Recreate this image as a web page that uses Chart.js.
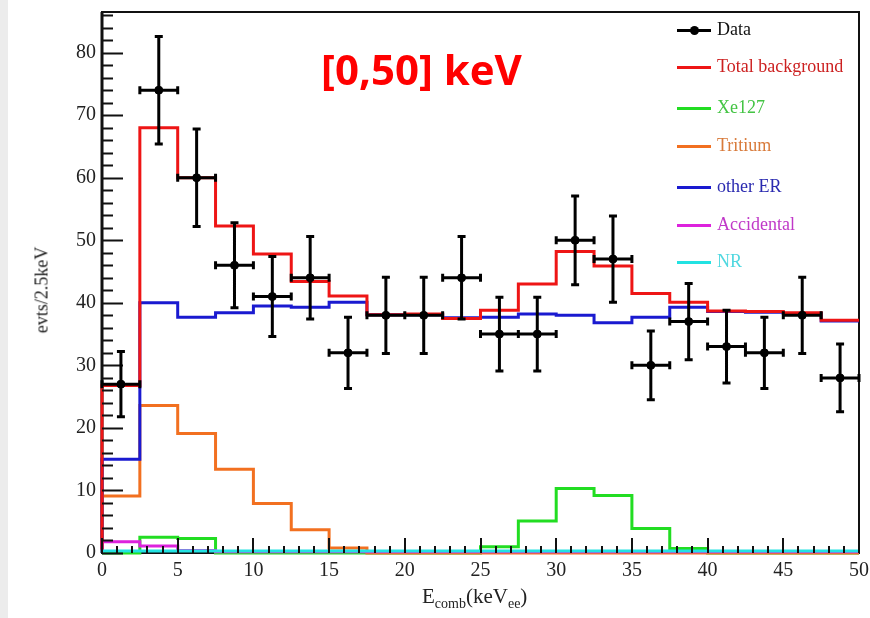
<!DOCTYPE html>
<html>
<head>
<meta charset="utf-8">
<script src="https://cdn.jsdelivr.net/npm/chart.js@4.4.1/dist/chart.umd.min.js"></script>
<style>
  html, body { margin: 0; padding: 0; background: #fff; }
  #wrap { position: relative; width: 870px; height: 618px; overflow: hidden; background: #fff; }
  #strip { position: absolute; left: 0; top: 0; width: 8px; height: 618px; background: #ececec; }
  #chart { position: absolute; left: 0; top: 0; }
  .lbl { position: absolute; font-family: "Liberation Serif", "DejaVu Serif", serif; color: #222; white-space: nowrap; }
  #range { position: absolute; left: 321px; top: 40px; font-family: "Open Sans", sans-serif; font-weight: 700; font-size: 42px; color: #f00; white-space: nowrap; }
  #ytitle { left: 42px; top: 290px; font-size: 18px; transform: translate(-50%, -50%) rotate(-90deg); }
  #xtitle { left: 422px; top: 584px; font-size: 21px; }
  #xtitle sub { font-size: 14px; }
  .leg { position: absolute; left: 677px; height: 20px; }
  .leg .ln { position: absolute; left: 0; top: 8px; width: 34px; height: 3px; }
  .leg .dot { position: absolute; left: 13px; top: 5px; width: 9px; height: 9px; border-radius: 50%; background: #000; }
  .leg .tx { position: absolute; left: 40px; top: -2px; font-family: "Liberation Serif", serif; font-size: 18px; white-space: nowrap; }
</style>
</head>
<body>
<div id="wrap">
  <div id="strip"></div>
  <canvas id="chart" width="870" height="618"></canvas>
  <div id="range">[0,50] keV</div>
  <div class="lbl" id="ytitle">evts/2.5keV</div>
  <div class="lbl" id="xtitle">E<sub>comb</sub>(keV<sub>ee</sub>)</div>
  <div id="legend"></div>
</div>
<script>
// ---- data ----
const binWidth = 2.5;
const xMin = 0;
const xMax = 50;
const yMax = 86.5;

const dataCounts = [27, 74, 60, 46, 41, 44, 32, 38, 38, 44, 35, 35, 50, 47, 30, 37, 33, 32, 38, 28];
const dataErr    = [5.2, 8.6, 7.8, 6.8, 6.4, 6.6, 5.7, 6.1, 6.1, 6.6, 5.9, 5.9, 7.1, 6.9, 5.5, 6.1, 5.8, 5.7, 6.1, 5.4];

const totalBkg   = [26.8, 68, 60, 52.3, 47.8, 43.4, 41.1, 38.1, 38.2, 37.5, 38.8, 43, 48.2, 45.9, 41.5, 40.1, 38.7, 38.6, 38.4, 37.2];
const otherER    = [15.0, 40, 37.7, 38.4, 39.5, 39.3, 40.1, 38.1, 38.1, 37.6, 37.7, 38.2, 38, 36.8, 37.7, 39.3, 38.6, 38.5, 38.3, 37.1];
const tritium    = [9.1, 23.6, 19.1, 13.4, 7.9, 3.7, 0.8, 0, 0, 0, 0, 0, 0, 0, 0, 0, 0, 0, 0, 0];
const xe127      = [0, 2.5, 2.3, 0, 0, 0, 0, 0, 0, 0, 1.0, 5.1, 10.3, 9.2, 3.9, 0.7, 0, 0, 0, 0];
const accidental = [1.8, 1.1, 0.4, 0.2, 0.2, 0.2, 0.2, 0.2, 0.2, 0.2, 0.2, 0.2, 0.2, 0.2, 0.2, 0.2, 0.2, 0.2, 0.2, 0.2];
const nr         = [0.3, 0.3, 0.3, 0.3, 0.3, 0.3, 0.3, 0.3, 0.3, 0.3, 0.3, 0.3, 0.3, 0.3, 0.3, 0.3, 0.3, 0.3, 0.3, 0.3];

const legendItems = [
  { name: 'Data',             line: '#000',    text: '#111',    dot: true },
  { name: 'Total background', line: '#ee1515', text: '#cc2020' },
  { name: 'Xe127',            line: '#22dd22', text: '#44c444' },
  { name: 'Tritium',          line: '#f27020', text: '#d87a3a' },
  { name: 'other ER',         line: '#1a1ad0', text: '#2a2ab0' },
  { name: 'Accidental',       line: '#dd22dd', text: '#c038c8' },
  { name: 'NR',               line: '#22e2e2', text: '#50d8e0' }
];
const legendRows = [31, 68, 109, 147, 188, 226, 263];

// histogram -> stepped outline points (bin edges)
function histPoints(vals) {
  const pts = [{ x: xMin, y: 0 }];
  vals.forEach((v, i) => pts.push({ x: xMin + i * binWidth, y: v }));
  pts.push({ x: xMax, y: vals[vals.length - 1] });
  return pts;
}

function histSet(vals, color, order) {
  return {
    type: 'line',
    data: histPoints(vals),
    borderColor: color,
    borderWidth: 3,
    stepped: 'before',
    pointRadius: 0,
    fill: false,
    clip: 4,
    order
  };
}

const dataPoints = dataCounts.map((c, i) => ({ x: xMin + (i + 0.5) * binWidth, y: c }));

// legend (html)
const legendEl = document.getElementById('legend');
legendEl.innerHTML = legendItems.map((it, i) => `
  <div class="leg" style="top:${legendRows[i] - 10}px">
    <span class="ln" style="background:${it.line}"></span>
    ${it.dot ? '<span class="dot"></span>' : ''}
    <span class="tx" style="color:${it.text}">${it.name}</span>
  </div>`).join('');

// frame drawn under the histograms
const framePlugin = {
  id: 'frame',
  beforeDatasetsDraw(chart) {
    const { ctx, chartArea: a } = chart;
    ctx.save();
    ctx.strokeStyle = '#111';
    ctx.lineWidth = 2;
    ctx.strokeRect(a.left, a.top, a.right - a.left, a.bottom - a.top);
    ctx.lineWidth = 3;
    ctx.beginPath();
    ctx.moveTo(a.left, a.top);
    ctx.lineTo(a.left, a.bottom);
    ctx.stroke();
    ctx.restore();
  }
};

// ROOT style inner ticks + error bars
const rootPlugin = {
  id: 'rootTicks',
  afterDatasetsDraw(chart) {
    const { ctx, chartArea: a, scales } = chart;
    const xs = scales.x, ys = scales.y;
    ctx.save();
    ctx.strokeStyle = '#111';
    ctx.lineWidth = 2;
    ctx.beginPath();
    for (let v = 0; v <= yMax; v += 2) {
      const py = Math.round(ys.getPixelForValue(v)) + 0.5;
      const len = v % 10 === 0 ? 21 : 11;
      ctx.moveTo(a.left, py);
      ctx.lineTo(a.left + len, py);
    }
    for (let v = xMin; v <= xMax; v += 1) {
      const px = Math.round(xs.getPixelForValue(v));
      const len = v % 5 === 0 ? 15 : 7;
      ctx.moveTo(px, a.bottom);
      ctx.lineTo(px, a.bottom - len);
    }
    ctx.stroke();

    // error bars
    ctx.strokeStyle = '#000';
    ctx.lineWidth = 3;
    ctx.beginPath();
    dataPoints.forEach((p, i) => {
      const px = xs.getPixelForValue(p.x);
      const py = ys.getPixelForValue(p.y);
      const x0 = xs.getPixelForValue(p.x - binWidth / 2);
      const x1 = xs.getPixelForValue(p.x + binWidth / 2);
      const y0 = ys.getPixelForValue(p.y - dataErr[i]);
      const y1 = ys.getPixelForValue(p.y + dataErr[i]);
      ctx.moveTo(x0, py); ctx.lineTo(x1, py);
      ctx.moveTo(px, y0); ctx.lineTo(px, y1);
      // caps
      ctx.moveTo(x0, py - 4); ctx.lineTo(x0, py + 4);
      ctx.moveTo(x1, py - 4); ctx.lineTo(x1, py + 4);
      ctx.moveTo(px - 4, y0); ctx.lineTo(px + 4, y0);
      ctx.moveTo(px - 4, y1); ctx.lineTo(px + 4, y1);
    });
    ctx.stroke();
    ctx.restore();
  }
};

const tickFont = { family: "'Liberation Serif', serif", size: 20 };

new Chart(document.getElementById('chart').getContext('2d'), {
  type: 'scatter',
  data: {
    datasets: [
      {
        type: 'scatter',
        data: dataPoints,
        pointRadius: 4,
        pointBackgroundColor: '#000',
        pointBorderColor: '#000',
        clip: false,
        order: 0
      },
      histSet(nr, '#22e2e2', 1),
      histSet(totalBkg, '#ee1515', 2),
      histSet(accidental, '#dd22dd', 3),
      histSet(otherER, '#1a1ad0', 4),
      histSet(tritium, '#f27020', 5),
      histSet(xe127, '#22dd22', 6)
    ]
  },
  options: {
    responsive: false,
    animation: false,
    events: [],
    layout: { padding: { top: 12, right: 11, left: 0, bottom: 0 } },
    plugins: { legend: { display: false }, tooltip: { enabled: false } },
    scales: {
      x: {
        type: 'linear',
        min: xMin,
        max: xMax,
        grid: { display: false, drawTicks: false },
        border: { display: false },
        ticks: { stepSize: 5, color: '#222', font: tickFont, padding: 6, maxRotation: 0 },
        afterFit(scale) {
          scale.height = 65;
          scale.paddingLeft = 0;
          scale.paddingRight = 0;
        }
      },
      y: {
        type: 'linear',
        min: 0,
        max: yMax,
        grid: { display: false, drawTicks: false },
        border: { display: false },
        ticks: { stepSize: 10, color: '#222', font: tickFont, padding: 6 },
        afterBuildTicks(scale) { scale.ticks = scale.ticks.filter(t => t.value % 10 === 0); },
        afterFit(scale) {
          scale.width = 102;
          scale.paddingTop = 0;
          scale.paddingBottom = 0;
        }
      }
    }
  },
  plugins: [framePlugin, rootPlugin]
});
</script>
</body>
</html>
